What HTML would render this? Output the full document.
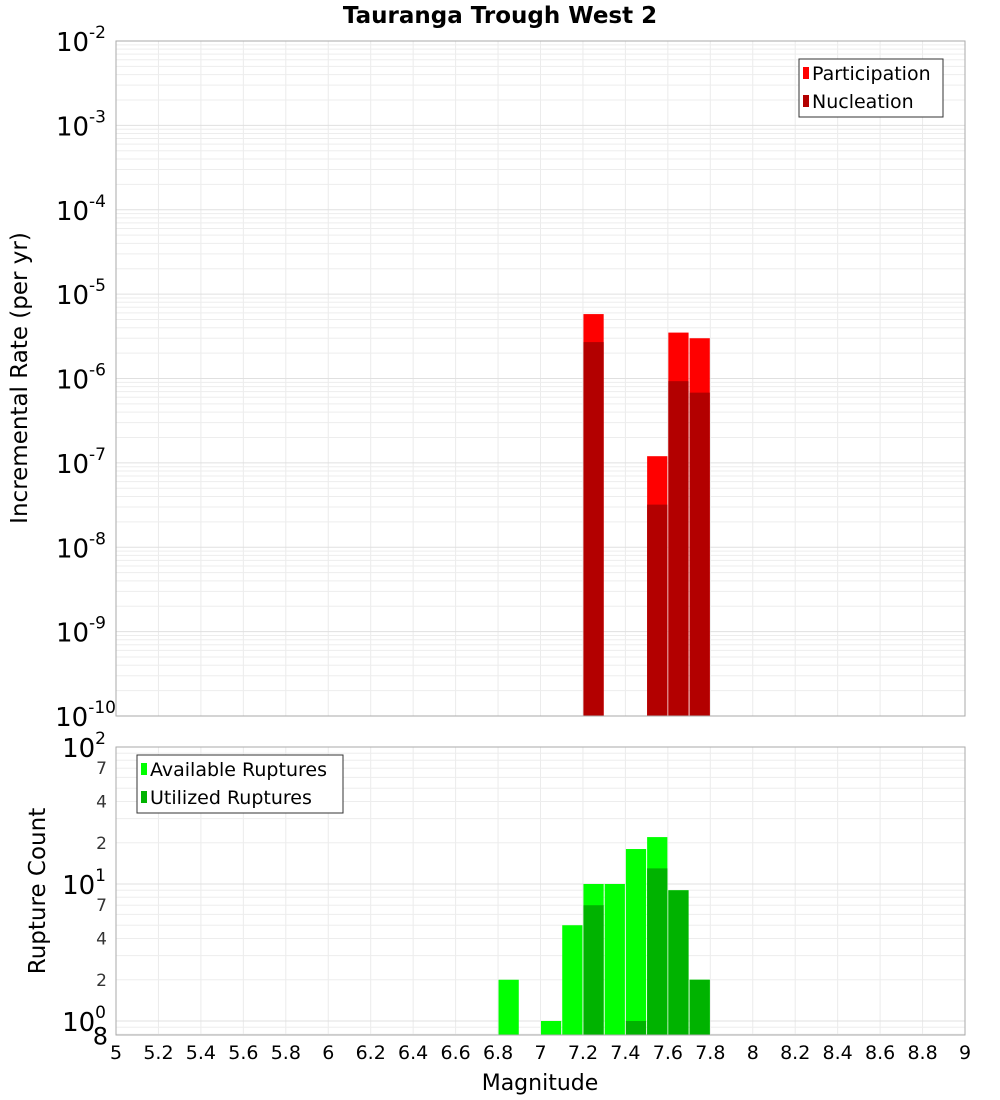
<!DOCTYPE html>
<html><head><meta charset="utf-8"><style>
body{margin:0;background:#fff}
svg{display:block;font-family:"DejaVu Sans","Liberation Sans",sans-serif}
</style></head><body>
<svg id="c" width="1000" height="1100">
<text x="500" y="23" text-anchor="middle" font-weight="bold" font-size="23">Tauranga Trough West 2</text>
<text transform="translate(27,378) rotate(-90)" text-anchor="middle" font-size="23">Incremental Rate (per yr)</text>
<text transform="translate(45,891) rotate(-90)" text-anchor="middle" font-size="23">Rupture Count</text>
<text x="540" y="1090" text-anchor="middle" font-size="22">Magnitude</text>
</svg>
<script>
const mags=[6.85,7.05,7.15,7.25,7.35,7.45,7.55,7.65,7.75];
const topMags=[7.25,7.55,7.65,7.75];
const participation=[5.8e-6,1.2e-7,3.5e-6,3.0e-6];
const nucleation=[2.7e-6,3.2e-8,9.3e-7,6.8e-7];
const available=[2,1,5,10,10,18,22,9,2];
const utilized=[0,0,0,7,0,1,13,9,2];
const xTicks=[5,5.2,5.4,5.6,5.8,6,6.2,6.4,6.6,6.8,7,7.2,7.4,7.6,7.8,8,8.2,8.4,8.6,8.8,9];
const NS='http://www.w3.org/2000/svg';
const svg=document.getElementById('c');
const L=116,R=965;
const x=m=>L+(m-5)/4*(R-L);
const T1=41,B1=716,yTop=v=>T1+(-2-Math.log10(v))/8*(B1-T1);
const T2=747,B2=1035,yBot=v=>T2+(2-Math.log10(v))*137;
function el(t,a,p){const e=document.createElementNS(NS,t);for(const k in a)e.setAttribute(k,a[k]);(p||svg).appendChild(e);return e;}
function txt(s,a){const e=el('text',a);e.textContent=s;return e;}
function grid(T,B,yf,lo,hi,name){
  const g=el('g',{});
  
  
  xTicks.forEach(t=>el('line',{x1:x(t),x2:x(t),y1:T,y2:B,stroke:'#ebebeb'},g));
  for(let d=lo;d<hi;d++)for(let k=1;k<10;k++){const v=k*Math.pow(10,d),y=yf(v);if(y>=T&&y<=B)el('line',{x1:L,x2:R,y1:y,y2:y,stroke:k==1?'#e0e0e0':'#ededed'},g);}
}
grid(T1,B1,yTop,-10,-2,'top');
grid(T2,B2,yBot,-1,2,'bottom');
topMags.forEach((m,i)=>{
  const r=el('rect',{x:x(m-0.05)+0.5,width:x(m+0.05)-x(m-0.05)-1,y:yTop(participation[i]),height:B1-yTop(participation[i]),fill:'#ff0000'});
  
  
  const n=el('rect',{x:x(m-0.05)+0.5,width:x(m+0.05)-x(m-0.05)-1,y:yTop(nucleation[i]),height:B1-yTop(nucleation[i]),fill:'#b30000'});
  
  
});
mags.forEach((m,i)=>{
  if(available[i]>0){const r=el('rect',{x:x(m-0.05)+0.5,width:x(m+0.05)-x(m-0.05)-1,y:yBot(available[i]),height:B2-yBot(available[i]),fill:'#00ff00'});
  
  }
  if(utilized[i]>0){const r=el('rect',{x:x(m-0.05)+0.5,width:x(m+0.05)-x(m-0.05)-1,y:yBot(utilized[i]),height:B2-yBot(utilized[i]),fill:'#00b300'});
  
  }
});
el('rect',{x:L,y:T1,width:R-L,height:B1-T1,fill:'none',stroke:'#aaa'});
el('rect',{x:L,y:T2,width:R-L,height:B2-T2,fill:'none',stroke:'#aaa'});
for(let e=-10;e<=-2;e++){const y=yTop(Math.pow(10,e));
  const t=txt('',{x:e==-10?116:106,y:y+10,'text-anchor':'end','font-size':26});
  
  
  const a=el('tspan',{},t);a.textContent='10';
  const b=el('tspan',{dy:-13,'font-size':17},t);b.textContent=String(e);
}
[[100,'2'],[10,'1'],[1,'0']].forEach(([v,s])=>{const y=yBot(v);
  const t=txt('',{x:106,y:y+10,'text-anchor':'end','font-size':26});
  
  
  const a=el('tspan',{},t);a.textContent='10';
  const b=el('tspan',{dy:-13,'font-size':17},t);b.textContent=s;
});
[[70,'7'],[40,'4'],[20,'2'],[7,'7'],[4,'4'],[2,'2'],[0.8,'8']].forEach(([v,s])=>{
  const t=txt(s,{x:v==0.8?108:107,y:yBot(v)+(v==0.8?10:6),'text-anchor':'end','font-size':v==0.8?24:17,fill:v==0.8?'#000':'#333'});
  
  
});
xTicks.forEach(t=>{const e=txt(String(t),{x:x(t),y:1059,'text-anchor':'middle','font-size':19});
  
  });
function legend(x0,y0,w,items,name){
  const g=el('g',{});
  
  
  el('rect',{x:x0,y:y0,width:w,height:58,fill:'#fff',stroke:'#333'},g);
  items.forEach(([lab,c],i)=>{el('rect',{x:x0+4,y:y0+8+i*28,width:6,height:12,fill:c},g);
    const t=el('text',{x:x0+13,y:y0+21+i*28,'font-size':19},g);t.textContent=lab;});
}
legend(799,59,144,[['Participation','#ff0000'],['Nucleation','#b30000']],'legend-top');
legend(137,755,206,[['Available Ruptures','#00ff00'],['Utilized Ruptures','#00b300']],'legend-bottom');
</script>
</body></html>
